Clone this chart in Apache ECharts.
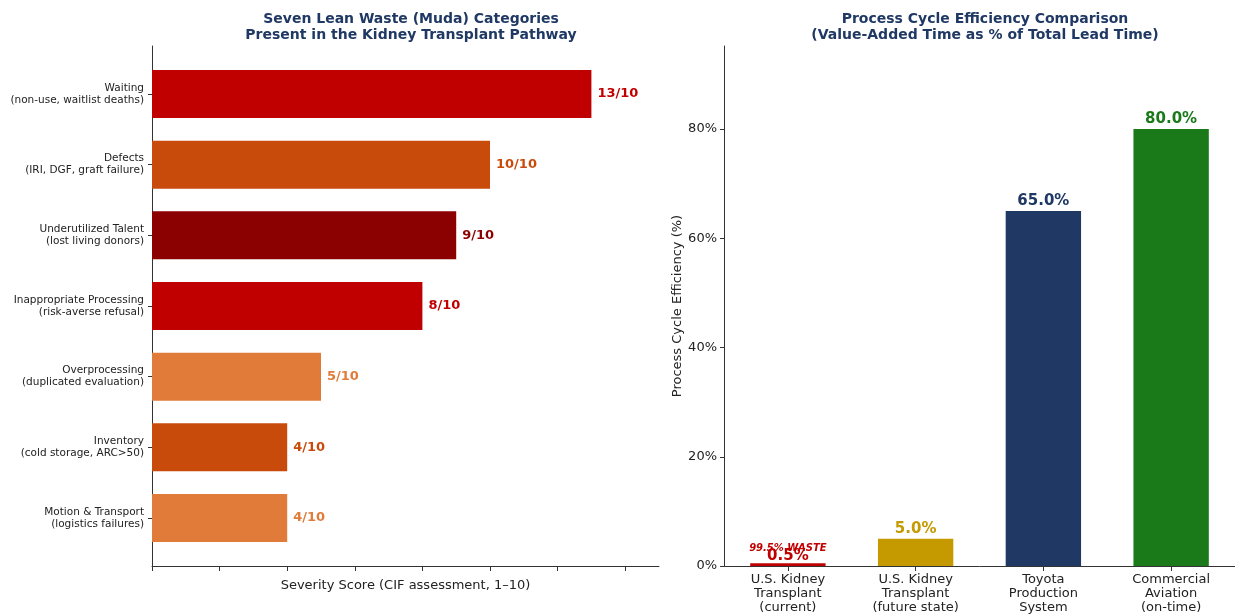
<!DOCTYPE html>
<html>
<head>
<meta charset="utf-8">
<script src="https://cdn.jsdelivr.net/npm/echarts@6.0.0/dist/echarts.min.js"></script>
<style>
  html, body { margin: 0; padding: 0; background: #fff; }
  #main { width: 1235px; height: 615px; }
</style>
</head>
<body>
<div id="main"></div>
<script>
// 左图：七种浪费
var leanCategories = [
  'Waiting\n(non-use, waitlist deaths)',
  'Defects\n(IRI, DGF, graft failure)',
  'Underutilized Talent\n(lost living donors)',
  'Inappropriate Processing\n(risk-averse refusal)',
  'Overprocessing\n(duplicated evaluation)',
  'Inventory\n(cold storage, ARC>50)',
  'Motion & Transport\n(logistics failures)'
];
var severityScores = [13, 10, 9, 8, 5, 4, 4];
var leanColors = ['#c00000', '#c84b0c', '#8b0000', '#c00000', '#e07b39', '#c84b0c', '#e07b39'];
var severityTicks = [0, 2, 4, 6, 8, 10, 12, 14];

// 右图：流程周期效率
var pceCategories = [
  'U.S. Kidney\nTransplant\n(current)',
  'U.S. Kidney\nTransplant\n(future state)',
  'Toyota\nProduction\nSystem',
  'Commercial\nAviation\n(on-time)'
];
var pceValues = [0.5, 5.0, 65.0, 80.0];
var pceColors = ['#c00000', '#c49a00', '#1f3864', '#1a7a1a'];
var pceTicks = [0, 20, 40, 60, 80];

var FONT = 'DejaVu Sans';
var NAVY = '#1f3864';

var myChart = echarts.init(document.getElementById('main'));

var option = {
  backgroundColor: '#fff',
  textStyle: { fontFamily: FONT },
  title: [
    {
      text: 'Seven Lean Waste (Muda) Categories\nPresent in the Kidney Transplant Pathway',
      left: 406, top: 6, textAlign: 'center',
      textStyle: { fontFamily: FONT, fontSize: 14, fontWeight: 'bold', color: NAVY, lineHeight: 16 }
    },
    {
      text: 'Process Cycle Efficiency Comparison\n(Value-Added Time as % of Total Lead Time)',
      left: 980, top: 6, textAlign: 'center',
      textStyle: { fontFamily: FONT, fontSize: 14, fontWeight: 'bold', color: NAVY, lineHeight: 16 }
    }
  ],
  grid: [
    { left: 152, right: 576, top: 46, bottom: 49, outerBoundsMode: 'none' },
    { left: 724, right: 0, top: 46, bottom: 49, outerBoundsMode: 'none' }
  ],
  xAxis: [
    {
      gridIndex: 0, type: 'value', min: 0, max: 15,
      name: 'Severity Score (CIF assessment, 1\u201310)',
      nameLocation: 'middle', nameGap: 13,
      nameTextStyle: { fontFamily: FONT, fontSize: 13, color: '#222' },
      axisLine: { show: true, onZero: false, lineStyle: { color: '#333', width: 1 } },
      axisTick: { show: true, length: 5, customValues: severityTicks, lineStyle: { color: '#333' } },
      axisLabel: { show: false },
      splitLine: { show: false }
    },
    {
      gridIndex: 1, type: 'category', data: pceCategories,
      axisLine: { show: true, onZero: false, lineStyle: { color: '#333', width: 1 } },
      axisTick: { show: true, alignWithLabel: true, length: 5, lineStyle: { color: '#333' } },
      axisLabel: { fontFamily: FONT, fontSize: 13, color: '#222', lineHeight: 14, margin: 7 },
      splitLine: { show: false }
    }
  ],
  yAxis: [
    {
      gridIndex: 0, type: 'value', inverse: true, min: -0.68, max: 6.68,
      axisLine: { show: true, onZero: false, lineStyle: { color: '#333', width: 1 } },
      axisTick: { show: true, length: 4, customValues: [0, 1, 2, 3, 4, 5, 6], lineStyle: { color: '#333' } },
      axisLabel: {
        customValues: [0, 1, 2, 3, 4, 5, 6],
        fontFamily: FONT, fontSize: 10.5, color: '#222', lineHeight: 12, align: 'right', margin: 8,
        formatter: function (v) { return leanCategories[Math.round(v)] || ''; }
      },
      splitLine: { show: false }
    },
    {
      gridIndex: 1, type: 'value', min: 0, max: 95.2,
      name: 'Process Cycle Efficiency (%)',
      nameLocation: 'middle', nameGap: 39, nameRotate: 90,
      nameTextStyle: { fontFamily: FONT, fontSize: 13, color: '#222' },
      axisLine: { show: true, onZero: false, lineStyle: { color: '#333', width: 1 } },
      axisTick: { show: true, length: 4, customValues: pceTicks, lineStyle: { color: '#333' } },
      axisLabel: {
        customValues: pceTicks,
        fontFamily: FONT, fontSize: 13, color: '#222', margin: 7,
        formatter: function (v) { return v + '%'; }
      },
      splitLine: { show: false }
    }
  ],
  series: [
    {
      type: 'custom',
      xAxisIndex: 0, yAxisIndex: 0,
      data: severityScores.map(function (v, i) { return [v, i]; }),
      renderItem: function (params, api) {
        var v = api.value(0), idx = api.value(1);
        var start = api.coord([0, idx]);
        var end = api.coord([v, idx]);
        var h = api.size([0, 0.68])[1];
        return {
          type: 'group',
          children: [
            {
              type: 'rect',
              shape: { x: start[0], y: start[1] - h / 2, width: end[0] - start[0], height: h },
              style: { fill: leanColors[idx] }
            },
            {
              type: 'text',
              x: end[0] + 6, y: start[1],
              style: {
                text: v + '/10', fill: leanColors[idx],
                fontFamily: FONT, fontSize: 13, fontWeight: 'bold',
                align: 'left', verticalAlign: 'middle'
              }
            }
          ]
        };
      }
    },
    {
      type: 'bar',
      xAxisIndex: 1, yAxisIndex: 1,
      barWidth: '59%',
      data: pceValues.map(function (v, i) {
        return { value: v, itemStyle: { color: pceColors[i] } };
      }),
      label: {
        show: true, position: 'top', distance: 2,
        fontFamily: FONT, fontSize: 15, fontWeight: 'bold',
        formatter: function (p) {
          if (p.dataIndex === 0) {
            return '{w|99.5% WASTE}\n{v|' + p.value.toFixed(1) + '%}';
          }
          return p.value.toFixed(1) + '%';
        },
        color: 'inherit',
        rich: {
          w: { fontFamily: FONT, fontSize: 10, fontWeight: 'bold', fontStyle: 'italic', color: '#c00000', lineHeight: 4 },
          v: { fontFamily: FONT, fontSize: 15, fontWeight: 'bold', color: '#c00000', lineHeight: 11 }
        }
      }
    }
  ]
};

myChart.setOption(option);
</script>
</body>
</html>
